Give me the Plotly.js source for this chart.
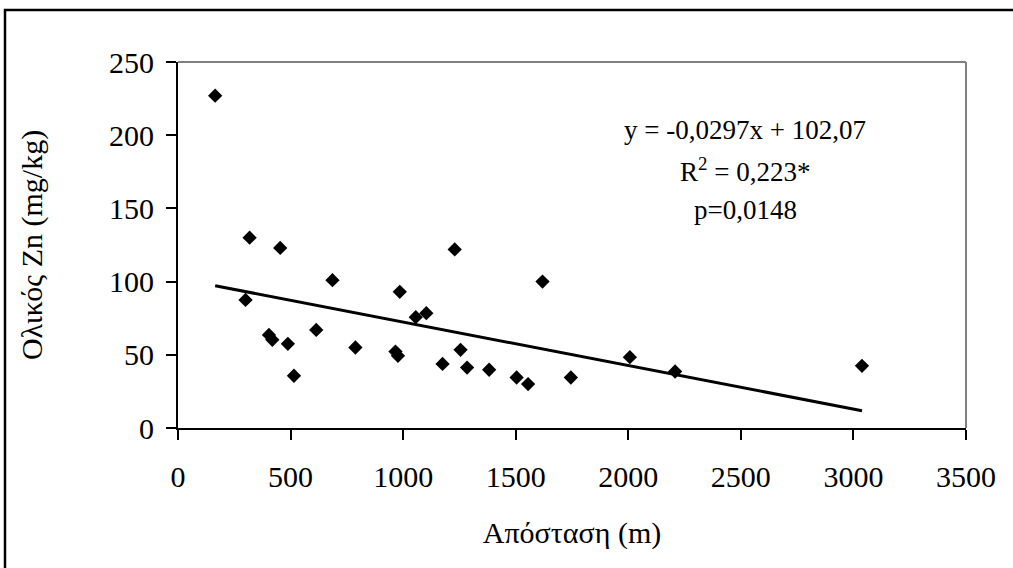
<!DOCTYPE html>
<html>
<head>
<meta charset="utf-8">
<script src="https://cdn.plot.ly/plotly-3.0.1.min.js"></script>
<style>html,body{margin:0;padding:0;background:#fff;}#chart{width:1013px;height:568px;}</style>
</head>
<body>
<div id="chart"></div>
<script>
// Distance (m) and total Zn (mg/kg)
const distance = [165, 318, 454, 1229, 686, 300, 985, 1619, 404, 419, 488, 515, 614, 788, 966, 977, 1056, 1103, 1175, 1255, 1284, 1382, 1504, 1555, 1745, 2007, 2208, 3038];
const zinc     = [227, 130, 123, 122, 101, 87.5, 93, 100, 63.6, 60.2, 57.5, 35.7, 67, 55, 52.2, 49.3, 75.7, 78.4, 43.8, 53.4, 41.3, 39.8, 34.5, 30, 34.5, 48.4, 38.6, 42.5];
const slope = -0.0297;
const intercept = 102.07;
const xTicks = [0, 500, 1000, 1500, 2000, 2500, 3000, 3500];
const yTicks = [0, 50, 100, 150, 200, 250];
const eqText = ["y = -0,0297x + 102,07", "R<sup>2</sup> = 0,223*", "p=0,0148"];

const xMin = Math.min(...distance), xMax = Math.max(...distance);
const trendX = [xMin, xMax];
const trendY = trendX.map(v => slope * v + intercept);

const W = 1013, H = 568, L = 178, R = 47, T = 62, B = 140;
const pw = W - L - R, ph = H - T - B;
const px = v => (v - L) / pw;
const py = v => (H - B - v) / ph;

const font = "Liberation Serif, Times New Roman, serif";

const data = [
  {x: distance, y: zinc, type: 'scatter', mode: 'markers',
   marker: {symbol: 'diamond', size: 11, color: '#000'}, hoverinfo: 'x+y'},
  {x: trendX, y: trendY, type: 'scatter', mode: 'lines',
   line: {color: '#000', width: 3}}
];

const layout = {
  width: W, height: H,
  margin: {l: L, r: R, t: T, b: B},
  showlegend: false,
  paper_bgcolor: '#fff', plot_bgcolor: '#fff',
  font: {family: font, size: 30, color: '#000'},
  xaxis: {range: [0, 3500], tickvals: xTicks, ticktext: xTicks.map(String),
    showgrid: false, zeroline: false, showline: true, linecolor: '#000', linewidth: 2,
    ticks: 'outside', ticklen: 10, tickwidth: 2, tickcolor: '#000',
    tickfont: {family: font, size: 30}, ticklabelstandoff: 11,
    title: {text: 'Απόσταση (m)', font: {family: font, size: 30}, standoff: 30}},
  yaxis: {range: [0, 250], tickvals: yTicks, ticktext: yTicks.map(String),
    showgrid: false, zeroline: false, showline: true, linecolor: '#000', linewidth: 2,
    ticks: 'outside', ticklen: 10, tickwidth: 2, tickcolor: '#000',
    tickfont: {family: font, size: 30}, ticklabelstandoff: 6,
    title: {text: 'Ολικός Zn (mg/kg)', font: {family: font, size: 30}, standoff: 58}},
  shapes: [
    {type: 'line', xref: 'paper', yref: 'paper', x0: 0, x1: 1, y0: 1, y1: 1, line: {color: '#808080', width: 2}},
    {type: 'line', xref: 'paper', yref: 'paper', x0: 1, x1: 1, y0: 0, y1: 1, line: {color: '#808080', width: 2}},
    {type: 'rect', xref: 'paper', yref: 'paper', x0: px(5), x1: px(1025), y0: py(580), y1: py(10), line: {color: '#000', width: 2.5}, layer: 'below'}
  ],
  annotations: [
    {text: eqText[0], xref: 'paper', yref: 'paper', x: px(745), y: py(130), showarrow: false, font: {family: font, size: 27}, xanchor: 'center', yanchor: 'middle'},
    {text: eqText[1], xref: 'paper', yref: 'paper', x: px(745), y: py(170), showarrow: false, font: {family: font, size: 27}, xanchor: 'center', yanchor: 'middle'},
    {text: eqText[2], xref: 'paper', yref: 'paper', x: px(745), y: py(210), showarrow: false, font: {family: font, size: 27}, xanchor: 'center', yanchor: 'middle'}
  ]
};

Plotly.newPlot('chart', data, layout, {displayModeBar: false, staticPlot: true});
</script>
</body>
</html>
